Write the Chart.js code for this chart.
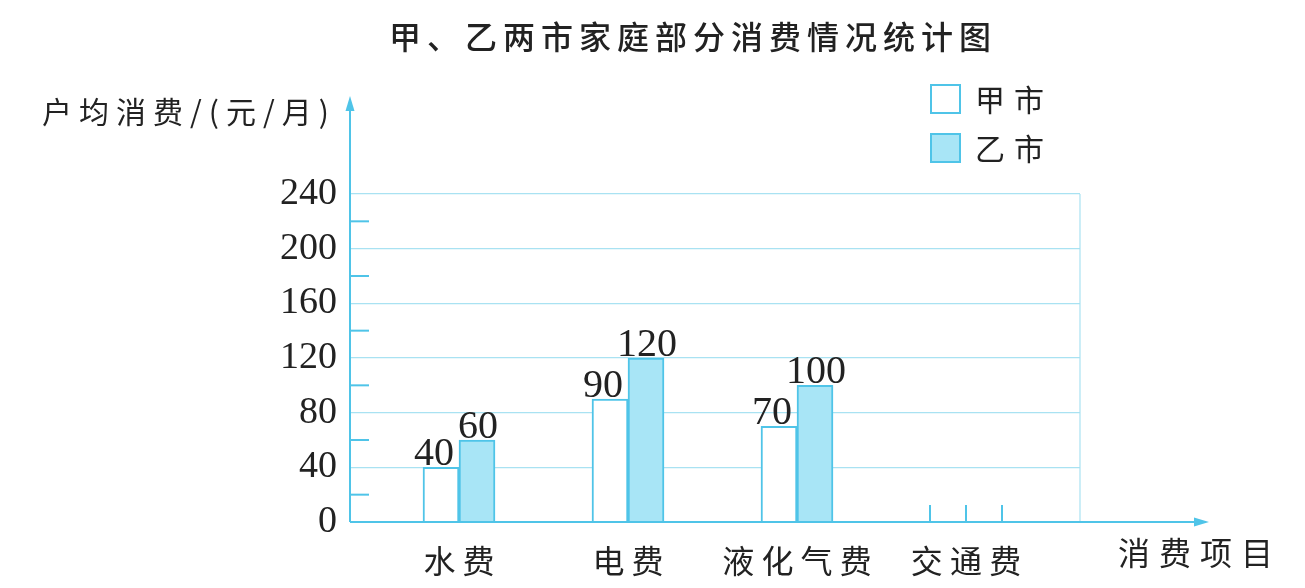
<!DOCTYPE html>
<html>
<head>
<meta charset="utf-8">
<script src="https://cdn.jsdelivr.net/npm/chart.js@4/dist/chart.umd.min.js"></script>
<style>
    html, body { margin: 0; padding: 0; background: #fff; }
    #box { width: 1305px; height: 588px; position: relative; }
</style>
</head>
<body>
<div id="box"><canvas id="consumoChart"></canvas></div>
<script>
// Datos del gráfico
const categories = ['水费', '电费', '液化气费', '交通费']; // Categorías del eje x
const cityA = [40, 90, 70, null];   // 甲市 (交通费 sin dato)
const cityB = [60, 120, 100, null]; // 乙市
const yTicks = [0, 40, 80, 120, 160, 200, 240]; // Etiquetas del eje y
const seriesNames = ['甲市', '乙市'];

const cyan = '#4fc4e8';      // Color de los ejes
const gridCyan = '#a9e2f2';  // Color de la cuadrícula
const fillCyan = '#a8e5f6';  // Relleno de las barras de 乙市
const ink = '#222';

// Convierte un array de valores en puntos {x, y} para la escala lineal
function toPoints(values) {
    return values
        .map((v, i) => ({ x: i, y: v }))
        .filter(p => p.y !== null);
}

// Plugin que dibuja ejes con flecha, marcas menores, textos y leyenda
const decorPlugin = {
    id: 'decor',
    afterDraw(chart) {
        const ctx = chart.ctx;
        const x = chart.scales.x;
        const y = chart.scales.y;
        const area = chart.chartArea;
        const y0 = y.getPixelForValue(0);
        ctx.save();

        // Borde derecho de la cuadrícula
        ctx.strokeStyle = gridCyan;
        ctx.lineWidth = 1.2;
        ctx.beginPath();
        ctx.moveTo(area.right, y.getPixelForValue(240));
        ctx.lineTo(area.right, y0);
        ctx.stroke();

        // Eje y con flecha
        ctx.strokeStyle = cyan;
        ctx.fillStyle = cyan;
        ctx.lineWidth = 2;
        ctx.beginPath();
        ctx.moveTo(area.left, y0);
        ctx.lineTo(area.left, 106);
        ctx.stroke();
        ctx.beginPath();
        ctx.moveTo(area.left, 96);
        ctx.lineTo(area.left - 4.5, 111);
        ctx.lineTo(area.left + 4.5, 111);
        ctx.closePath();
        ctx.fill();

        // Eje x con flecha
        ctx.beginPath();
        ctx.moveTo(area.left, y0);
        ctx.lineTo(1198, y0);
        ctx.stroke();
        ctx.beginPath();
        ctx.moveTo(1209, y0);
        ctx.lineTo(1194, y0 - 4.5);
        ctx.lineTo(1194, y0 + 4.5);
        ctx.closePath();
        ctx.fill();

        // Marcas menores del eje y (20, 60, ...)
        ctx.lineWidth = 2;
        for (let i = 0; i < yTicks.length - 1; i++) {
            const mid = (yTicks[i] + yTicks[i + 1]) / 2;
            const py = y.getPixelForValue(mid);
            ctx.beginPath();
            ctx.moveTo(area.left, py);
            ctx.lineTo(area.left + 19, py);
            ctx.stroke();
        }

        // Marcas vacías para 交通费 (barras por completar)
        const bar = chart.options.datasets.bar.barThickness;
        categories.forEach((c, i) => {
            if (cityA[i] === null && cityB[i] === null) {
                const cx = x.getPixelForValue(i);
                const top = y.getPixelForValue(12.5);
                ctx.lineWidth = 2;
                [cx - bar, cx, cx + bar].forEach(px => {
                    ctx.beginPath();
                    ctx.moveTo(px, y0);
                    ctx.lineTo(px, top);
                    ctx.stroke();
                });
            }
        });

        // Valores encima de las barras
        ctx.fillStyle = ink;
        ctx.font = '40px "Liberation Serif", serif';
        ctx.textAlign = 'center';
        ctx.textBaseline = 'alphabetic';
        chart.data.datasets.forEach((ds, di) => {
            const meta = chart.getDatasetMeta(di);
            meta.data.forEach((el, k) => {
                const shift = di === 0 ? -7 : 1;
                ctx.fillText(String(ds.data[k].y), el.x + shift, el.y - 2);
            });
        });

        // Título
        ctx.font = '500 32px "Noto Sans CJK SC", sans-serif';
        ctx.letterSpacing = '6px';
        ctx.textAlign = 'center';
        ctx.textBaseline = 'middle';
        ctx.fillText('甲、乙两市家庭部分消费情况统计图', 693, 37);

        // Título del eje y
        ctx.font = '30px "Noto Sans CJK SC", sans-serif';
        ctx.letterSpacing = '7px';
        ctx.textAlign = 'left';
        ctx.fillText('户均消费/(元/月)', 42, 112);

        // Título del eje x
        ctx.font = '32px "Noto Sans CJK SC", sans-serif';
        ctx.letterSpacing = '9px';
        ctx.fillText('消费项目', 1118, 553);

        // Leyenda
        ctx.font = '30px "Noto Sans CJK SC", sans-serif';
        ctx.letterSpacing = '9px';
        const legendY = [99, 148];
        chart.data.datasets.forEach((ds, di) => {
            const ly = legendY[di];
            ctx.fillStyle = ds.backgroundColor;
            ctx.fillRect(931, ly - 14, 29, 28);
            ctx.strokeStyle = cyan;
            ctx.lineWidth = 2;
            ctx.strokeRect(931, ly - 14, 29, 28);
            ctx.fillStyle = ink;
            ctx.fillText(seriesNames[di], 975, ly + 1);
        });

        ctx.restore();
    }
};

new Chart(document.getElementById('consumoChart'), {
    type: 'bar',
    data: {
        datasets: [{
            label: seriesNames[0],
            data: toPoints(cityA),
            backgroundColor: '#ffffff',
            borderColor: cyan,
            borderWidth: 2
        }, {
            label: seriesNames[1],
            data: toPoints(cityB),
            backgroundColor: fillCyan,
            borderColor: cyan,
            borderWidth: 2
        }]
    },
    options: {
        responsive: true,
        maintainAspectRatio: false,
        devicePixelRatio: 1,
        animation: false,
        datasets: { bar: { barThickness: 36 } },
        layout: { padding: { left: 0, right: 225, top: 194, bottom: 0 } },
        plugins: {
            legend: { display: false },
            title: { display: false },
            tooltip: { enabled: false }
        },
        scales: {
            x: {
                type: 'linear',
                offset: false,
                min: -109 / 169,   // Deja espacio entre el eje y y la primera categoría
                max: 621 / 169,
                afterBuildTicks(axis) {
                    axis.ticks = categories.map((c, i) => ({ value: i }));
                },
                afterFit(axis) { axis.height = 66; },
                grid: { display: false, offset: false },
                border: { display: false },
                ticks: {
                    autoSkip: false,
                    maxRotation: 0,
                    padding: 12,
                    color: ink,
                    font: { family: '"Noto Sans CJK SC", sans-serif', size: 32 },
                    callback: v => (categories[v] || '').split('').join(' ')
                }
            },
            y: {
                min: 0,
                max: 240,
                afterBuildTicks(axis) {
                    axis.ticks = yTicks.map(v => ({ value: v }));
                },
                afterFit(axis) { axis.width = 350; },
                grid: { color: gridCyan, lineWidth: 1.2, drawTicks: false },
                border: { display: false },
                ticks: {
                    padding: 13,
                    color: ink,
                    font: { family: '"Liberation Serif", serif', size: 38 }
                }
            }
        }
    },
    plugins: [decorPlugin]
});
</script>
</body>
</html>
